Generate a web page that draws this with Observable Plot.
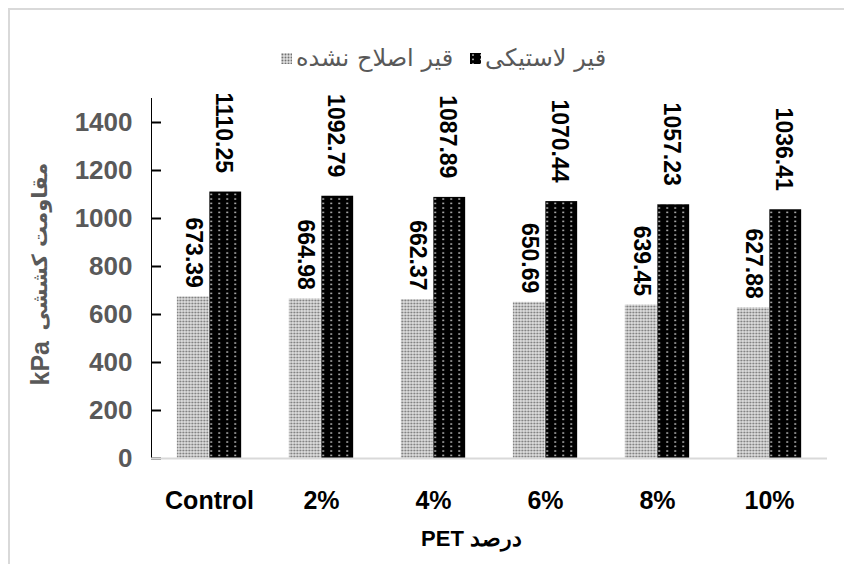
<!DOCTYPE html>
<html>
<head>
<meta charset="utf-8">
<script src="https://cdn.jsdelivr.net/npm/d3@7"></script>
<script src="https://cdn.jsdelivr.net/npm/@observablehq/plot@0.6"></script>
<style>
  body { margin: 0; background: #fff; }
  #chart { position: relative; width: 844px; height: 564px; overflow: hidden; background: #fff; }
  .outline { position: absolute; left: 8px; top: 8px; width: 1000px; height: 1000px;
             border-left: 2px solid #d9d9d9; border-top: 2px solid #d9d9d9; pointer-events: none; }
  .legend { position: relative; height: 80px; }
  .legend .item { position: absolute; top: 40px; height: 36px; display: flex; align-items: center;
                  gap: 4px; font-family: "DejaVu Sans", sans-serif; font-size: 24px; color: #595959; }
  .legend .item svg { display: block; }
  #plot svg { display: block; }
  g[aria-label^="y-axis"] text { fill: #595959; font: bold 26px "Liberation Sans", Arial, sans-serif; }
  g[aria-label^="y-axis"] line, g[aria-label^="y-axis"] path { stroke: #000; stroke-width: 2px; stroke-opacity: 1; }
  g[aria-label^="x-axis"] text { fill: #000; font: bold 25px "Liberation Sans", Arial, sans-serif; }
</style>
</head>
<body>
<div id="chart">
  <div class="outline"></div>
  <div class="legend" id="legend"></div>
  <div id="plot"></div>
</div>
<script>
// Tensile strength (kPa) of plain and crumb-rubber-modified bitumen by PET content
const categories = ["Control", "2%", "4%", "6%", "8%", "10%"];
const unmodified = [673.39, 664.98, 662.37, 650.69, 639.45, 627.88];
const rubber = [1110.25, 1092.79, 1087.89, 1070.44, 1057.23, 1036.41];
const seriesNames = ["قیر اصلاح نشده", "قیر لاستیکی"];
const yTicks = [0, 200, 400, 600, 800, 1000, 1200, 1400];
const yDomain = [0, 1500];
const yTitleUnit = "kPa";
const yTitleName = "مقاومت کششی";
const xTitle = "PET درصد";

const rows = categories.flatMap((category, i) => [
  {category, series: seriesNames[0], value: unmodified[i]},
  {category, series: seriesNames[1], value: rubber[i]}
]);
const plainRows = rows.filter(d => d.series === seriesNames[0]);
const rubberRows = rows.filter(d => d.series === seriesNames[1]);

const fills = {
  [seriesNames[0]]: "url(#dots-grey)",
  [seriesNames[1]]: "url(#dots-black)"
};

const fmt = d3.format(".2f");
const half = 16.25;      // half a bar width: the pair sits side by side in each band
const barInset = 40.1;   // leaves a bar 32.5px wide in each band

const labelStyle = {fontSize: 23, fontWeight: "bold", fontFamily: "Liberation Sans, Arial, sans-serif", fill: "#000"};

const svg = Plot.plot({
  width: 844,
  height: 484,
  marginTop: 18,
  marginBottom: 106,
  marginLeft: 151,
  marginRight: 17,
  style: {fontFamily: "Liberation Sans, Arial, sans-serif", fontSize: "26px", color: "#000", background: "transparent", overflow: "visible"},
  x: {domain: categories, padding: 0, tickSize: 0, tickPadding: 33, label: null},
  y: {domain: yDomain, ticks: yTicks, tickFormat: d3.format("d"), tickSize: -10, tickPadding: 29, line: true, label: null},
  marks: [
    Plot.barY(plainRows, {x: "category", y: "value", fill: d => fills[d.series], insetLeft: barInset, insetRight: barInset, dx: -half}),
    Plot.barY(rubberRows, {x: "category", y: "value", fill: d => fills[d.series], insetLeft: barInset, insetRight: barInset, dx: half}),
    Plot.ruleY([0], {stroke: "#d9d9d9", strokeWidth: 2}),
    Plot.text(plainRows, {x: "category", y: "value", text: d => fmt(d.value), rotate: 90, textAnchor: "end", dx: -half, dy: -9, ...labelStyle}),
    Plot.text(rubberRows, {x: "category", y: "value", text: d => fmt(d.value), rotate: 90, textAnchor: "end", dx: half - 2, dy: -19, ...labelStyle}),
    // y title: bold Latin unit at the bottom, Persian name above it
    Plot.text([yTitleUnit], {frameAnchor: "left", rotate: -90, textAnchor: "start", dx: -111, dy: 107, text: d => d, fill: "#595959", fontSize: 25, fontWeight: "bold"}),
    Plot.text([yTitleName], {frameAnchor: "left", rotate: -90, textAnchor: "start", dx: -111, dy: 52, text: d => d, fill: "#595959", fontSize: 21, fontWeight: "bold", fontFamily: "DejaVu Sans, sans-serif"}),
    Plot.text([xTitle], {frameAnchor: "bottom", dx: -18, dy: 87, text: d => d, fill: "#000", fontSize: 22, fontWeight: "bold"})
  ]
});

// dotted fills used by the bars and the legend swatches
d3.select(svg).insert("defs", ":first-child").html(`
  <pattern id="dots-grey" patternUnits="userSpaceOnUse" width="3" height="3">
    <rect width="3" height="3" fill="#e0e0e0"></rect>
    <circle cx="1.5" cy="1.5" r="0.95" fill="#727272"></circle>
  </pattern>
  <pattern id="dots-black" patternUnits="userSpaceOnUse" width="8" height="4.5">
    <rect width="8" height="4.5" fill="#000"></rect>
    <circle cx="3" cy="2" r="0.8" fill="#fff"></circle>
  </pattern>`);

document.getElementById("plot").append(svg);

// legend: swatch then label, one entry per series
const legend = d3.select("#legend");
const legendLeft = {[seriesNames[0]]: 281, [seriesNames[1]]: 470};
seriesNames.forEach(name => {
  const item = legend.append("div").attr("class", "item").style("left", legendLeft[name] + "px");
  item.append("svg").attr("width", 11).attr("height", 11)
    .append("rect").attr("width", 11).attr("height", 11).attr("fill", fills[name]);
  item.append("span").attr("dir", "rtl").text(name);
});
</script>
</body>
</html>
